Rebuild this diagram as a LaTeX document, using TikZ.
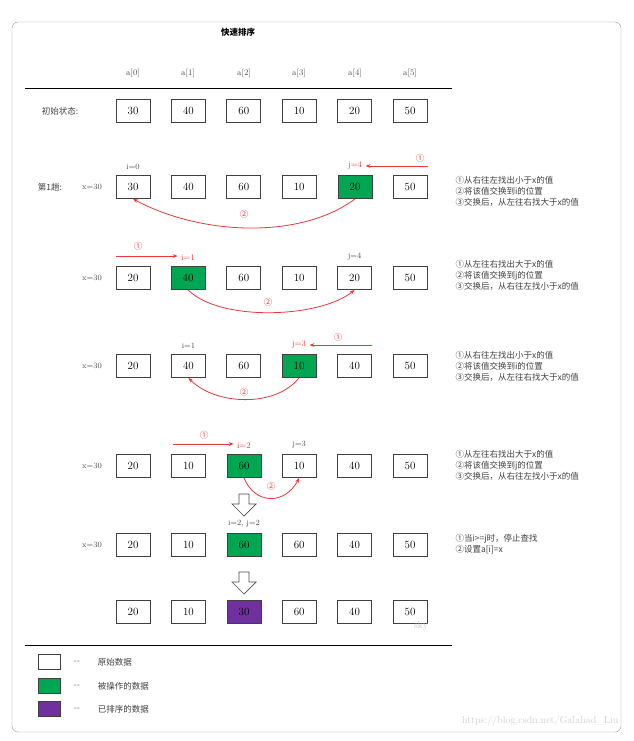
\documentclass[tikz,border=0pt]{standalone}
\usepackage{fontspec}
\newfontfamily\cjk{Noto Sans CJK SC}
\usetikzlibrary{arrows.meta,positioning}
\definecolor{opgreen}{HTML}{00A651}
\definecolor{sortp}{HTML}{7030A0}
\definecolor{redl}{HTML}{E8383D}
\begin{document}
\begin{tikzpicture}[x=1pt,y=-1pt,
  cell/.style={draw=black!75,line width=0.8pt,minimum width=34pt,minimum height=23pt,inner sep=0pt,font=\fontsize{11}{11}\selectfont},
  gcell/.style={cell,fill=opgreen},
  pcell/.style={cell,fill=sortp},
  lab/.style={font=\fontsize{8}{8}\selectfont,text=black!70},
  rlab/.style={font=\fontsize{8.5}{8.5}\selectfont,text=redl},
  clab/.style={font=\cjk\fontsize{8.5}{8.5}\selectfont,text=redl},
  note/.style={font=\cjk\fontsize{8.5}{11}\selectfont,text=black!75,anchor=west,align=left},
  rarr/.style={draw=redl,line width=0.8pt,-{Stealth[length=5pt]}},
  hollow/.style={draw=black!70,fill=white,line width=0.7pt}]
\useasboundingbox (0,0) rectangle (633,741);
\draw[rounded corners=6pt,draw=black!40] (12,22) rectangle (621,732);
\node[font=\cjk\bfseries\fontsize{8.5}{8.5}\selectfont] (title) at (238,32) {快速排序};
\foreach \i/\x in {0/133,1/188,2/244,3/299,4/355,5/410}
  \node[lab,font=\fontsize{8.5}{8.5}\selectfont] (h\i) at (\x,73) {a[\i]};
\draw[line width=0.8pt] (25,88) -- (452,88);
\draw[line width=0.8pt] (25,645) -- (452,645);
% row 0
\foreach \v/\k in {30/0,40/1,60/2,10/3,20/4,50/5} \node[cell] (r\k) at (133+55.4*\k,111) {\v};
\node[font=\cjk\fontsize{8.5}{8.5}\selectfont,text=black!75] (l0) at (60,111) {初始状态:};
% row 1
\foreach \v/\k in {30/0,40/1,60/2,10/3,50/5} \node[cell] (a\k) at (133+55.4*\k,187) {\v};
\node[gcell] (a4) at (355,187) {20};
\node[font=\cjk\fontsize{8.5}{8.5}\selectfont,text=black!75] (l1) at (50,187) {第1趟:};
\node[lab] (x1) at (92,187) {x=30};
\node[lab,above=2pt of a0] (i1) {i=0};
\node[rlab,above=2pt of a4] (j1) {j=4};
\coordinate (s1) at (428,166);
\draw[rarr] (s1) -- (s1 -| j1.east);
\node[clab] (c11) at (420,158) {①};
\draw[rarr] (a4.south) .. controls (300,240) and (200,235) .. (a0.south);
\node[clab] (c12) at (244,214) {②};
\node[note] (n1) at (452,191) {①从右往左找出小于x的值\\②将该值交换到i的位置\\③交换后，从左往右找大于x的值};
% row 2
\foreach \v/\k in {20/0,60/2,10/3,20/4,50/5} \node[cell] (b\k) at (133+55.4*\k,278) {\v};
\node[gcell] (b1) at (188,278) {40};
\node[lab] (x2) at (92,278) {x=30};
\node[rlab,above=2pt of b1] (i2) {i=1};
\node[lab,above=2pt of b4] (j2) {j=4};
\coordinate (s2) at (116,256);
\draw[rarr] (s2) -- (s2 -| i2.west);
\node[clab] (c21) at (138,246) {①};
\draw[rarr] (b1.south) .. controls (220,322) and (320,318) .. (b4.south);
\node[clab] (c22) at (268,302) {②};
\node[note] (n2) at (452,275) {①从左往右找出大于x的值\\②将该值交换到j的位置\\③交换后，从右往左找小于x的值};
% row 3
\foreach \v/\k in {20/0,40/1,60/2,40/4,50/5} \node[cell] (c\k) at (133+55.4*\k,366) {\v};
\node[gcell] (c3) at (299,366) {10};
\node[lab] (x3) at (92,366) {x=30};
\node[lab,above=2pt of c1] (i3) {i=1};
\node[rlab,above=2pt of c3] (j3) {j=3};
\coordinate (s3) at (372,345);
\draw[rarr] (s3) -- (s3 -| j3.east);
\node[clab] (c31) at (338,337) {①};
\draw[rarr] (c3.south) .. controls (275,408) and (215,405) .. (c1.south);
\node[clab] (c32) at (244,392) {②};
\node[note] (n3) at (452,366) {①从右往左找出小于x的值\\②将该值交换到i的位置\\③交换后，从左往右找大于x的值};
% row 4
\foreach \v/\k in {20/0,10/1,10/3,40/4,50/5} \node[cell] (d\k) at (133+55.4*\k,466) {\v};
\node[gcell] (d2) at (244,466) {60};
\node[lab] (x4) at (92,466) {x=30};
\node[rlab,above=2pt of d2] (i4) {i=2};
\node[lab,above=2pt of d3] (j4) {j=3};
\coordinate (s4) at (173,444);
\draw[rarr] (s4) -- (s4 -| i4.west);
\node[clab] (c41) at (204,435) {①};
\draw[rarr] (d2.south) .. controls (255,505) and (285,505) .. (d3.south);
\node[clab] (c42) at (271,486) {②};
\node[note] (n4) at (452,465) {①从左往右找出大于x的值\\②将该值交换到j的位置\\③交换后，从右往左找小于x的值};
% hollow arrows
\draw[hollow] (239,494)--(249,494)--(249,504)--(256,504)--(244,516)--(232,504)--(239,504)--cycle;
\draw[hollow] (239,572)--(249,572)--(249,582)--(256,582)--(244,594)--(232,582)--(239,582)--cycle;
% row 5
\foreach \v/\k in {20/0,10/1,60/3,40/4,50/5} \node[cell] (e\k) at (133+55.4*\k,545) {\v};
\node[gcell] (e2) at (244,545) {60};
\node[lab] (x5) at (92,545) {x=30};
\node[lab,above=2pt of e2] (ij5) {i=2, j=2};
\node[note] (n5) at (452,544) {①当i>=j时，停止查找\\②设置a[i]=x};
% row 6
\foreach \v/\k in {20/0,10/1,60/3,40/4,50/5} \node[cell] (f\k) at (133+55.4*\k,612) {\v};
\node[pcell] (f2) at (244,612) {30};
\node[font=\fontsize{10}{10}\selectfont,text=black!20] (sky) at (421,626) {sky};
% legend
\node[cell,minimum width=22pt,minimum height=15pt] (k1) at (49,662) {};
\node[gcell,minimum width=22pt,minimum height=15pt] (k2) at (49,686) {};
\node[pcell,minimum width=22pt,minimum height=15pt] (k3) at (49,709) {};
\foreach \k/\t in {1/原始数据,2/被操作的数据,3/已排序的数据} {
  \node[font=\fontsize{9}{9}\selectfont,text=black!60,anchor=west] (dash\k) at ([xshift=10pt]k\k.east) {-{}-};
  \node[note] (t\k) at ([xshift=34pt]k\k.east) {\t};
}
\node[font=\fontsize{10}{10}\selectfont,text=black!18,anchor=east] (url) at (622,721) {https://blog.csdn.net/Galahad\_Liu};
\end{tikzpicture}
\end{document}
